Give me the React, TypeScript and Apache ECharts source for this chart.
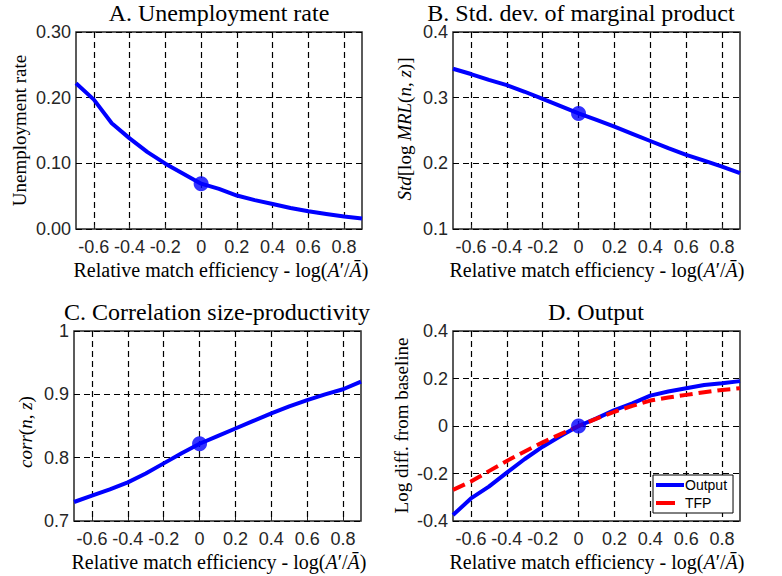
import React, { useEffect, useRef } from "react";
import * as echarts from "echarts";

// Relative match efficiency, log(A'/Ā)
const efficiency = [-0.7, -0.6, -0.5, -0.4, -0.3, -0.2, -0.1, 0, 0.1, 0.2, 0.3, 0.4, 0.5, 0.6, 0.7, 0.8, 0.9];
const xTickValues = [-0.6, -0.4, -0.2, 0, 0.2, 0.4, 0.6, 0.8];

// Panel series
const unemploymentRate = [0.222, 0.197, 0.161, 0.138, 0.117, 0.0995, 0.084, 0.069, 0.061, 0.051, 0.044, 0.038, 0.032, 0.027, 0.023, 0.019, 0.016];
const stdMarginalProduct = [0.344, 0.336, 0.327, 0.319, 0.309, 0.298, 0.287, 0.276, 0.266, 0.256, 0.245, 0.234, 0.223, 0.213, 0.204, 0.195, 0.185];
const corrSizeProductivity = [0.730, 0.740, 0.750, 0.761, 0.775, 0.791, 0.807, 0.822, 0.834, 0.846, 0.858, 0.870, 0.881, 0.891, 0.900, 0.908, 0.920];
const outputLogDiff = [-0.375, -0.305, -0.255, -0.196, -0.139, -0.087, -0.042, 0, 0.032, 0.067, 0.095, 0.128, 0.145, 0.159, 0.173, 0.180, 0.189];
const tfpLogDiff = [-0.269, -0.234, -0.19, -0.147, -0.107, -0.069, -0.034, 0, 0.031, 0.060, 0.085, 0.107, 0.120, 0.131, 0.142, 0.152, 0.159];

const panelTitles = ["A. Unemployment rate", "B. Std. dev. of marginal product", "C. Correlation size-productivity", "D. Output"];
const legendNames = ["Output", "TFP"];

const BLUE = "#0000ff";
const RED = "#ff0000";
const SANS = "Liberation Sans";
const SERIF = "Liberation Serif";

const baseIdx = efficiency.indexOf(0);
const toPairs = (ys: number[]) => efficiency.map((x, i) => [x, ys[i]]);

const grids = [
  { left: 76, top: 32, width: 286, height: 197 },
  { left: 453, top: 32, width: 287, height: 197 },
  { left: 74, top: 331, width: 287, height: 190 },
  { left: 453, top: 331, width: 287, height: 190 },
];

const yRanges = [
  { min: 0, max: 0.3, interval: 0.1, fmt: (v: number) => v.toFixed(2) },
  { min: 0.1, max: 0.4, interval: 0.1, fmt: (v: number) => v.toFixed(1) },
  { min: 0.7, max: 1, interval: 0.1, fmt: (v: number) => (Math.abs(v - 1) < 1e-9 ? "1" : v.toFixed(1)) },
  { min: -0.4, max: 0.4, interval: 0.2, fmt: (v: number) => (Math.abs(v) < 1e-9 ? "0" : v.toFixed(1)) },
];

const gridLine = { show: true, lineStyle: { color: "#000", width: 1.2, type: [6, 4] as number[] } };

const xFmt = (v: number) => {
  const r = Math.round(v * 10) / 10;
  return r === 0 ? "0" : String(r);
};

const nameRich = {
  r: { fontFamily: SERIF, fontSize: 20, color: "#333" },
  i: { fontFamily: SERIF, fontSize: 20, fontStyle: "italic", color: "#333" },
};
const yRich = {
  r: { fontFamily: SERIF, fontSize: 19, color: "#333" },
  i: { fontFamily: SERIF, fontSize: 19, fontStyle: "italic", color: "#333" },
};
const titleRich = {
  t: { fontFamily: SERIF, fontSize: 24, color: "#000" },
};

const xNameText = "{r|Relative match efficiency - log(}{i|A}{r|\u2032/}{i|\u0100}{r|)}";

const yNames = [
  { text: "{r|Unemployment rate}", x: 19, y: 130.5 },
  { text: "{i|Std}{r|[log }{i|MRL}{r|(}{i|n}{r|, }{i|z}{r|)]}", x: 404, y: 129 },
  { text: "{i|corr}{r|(}{i|n}{r|, }{i|z}{r|)}", x: 25, y: 432 },
  { text: "{r|Log diff. from baseline}", x: 401, y: 425.5 },
];

const titlePos = [
  { x: 219, y: 13 },
  { x: 581, y: 13 },
  { x: 217, y: 312 },
  { x: 596, y: 312 },
];

const xNamePos = [
  { x: 221, y: 270 },
  { x: 597, y: 270 },
  { x: 219, y: 562 },
  { x: 597, y: 562 },
];

function buildOption() {
  const xAxis = grids.map((_, i) => ({
    type: "value",
    gridIndex: i,
    min: -0.7,
    max: 0.9,
    axisLine: { show: false },
    axisTick: { show: true, inside: true, length: 4, customValues: xTickValues, lineStyle: { color: "#262626" } },
    axisLabel: { customValues: xTickValues, formatter: xFmt, fontFamily: SANS, fontSize: 18, color: "#262626", margin: 9 },
    splitLine: gridLine,
  }));
  const yAxis = grids.map((_, i) => ({
    type: "value",
    gridIndex: i,
    min: yRanges[i].min,
    max: yRanges[i].max,
    interval: yRanges[i].interval,
    axisLine: { show: false },
    axisTick: { show: true, inside: true, length: 4, lineStyle: { color: "#262626" } },
    axisLabel: { formatter: yRanges[i].fmt, fontFamily: SANS, fontSize: 18, color: "#262626", margin: 5 },
    splitLine: gridLine,
  }));

  const lineSeries = (idx: number, data: number[], name?: string) => ({
    type: "line",
    name,
    xAxisIndex: idx,
    yAxisIndex: idx,
    data: toPairs(data),
    symbol: "none",
    lineStyle: { color: BLUE, width: 4, join: "round" },
    itemStyle: { color: BLUE },
    z: 3,
  });
  const baseMarker = (idx: number, data: number[]) => ({
    type: "scatter",
    xAxisIndex: idx,
    yAxisIndex: idx,
    data: [[efficiency[baseIdx], data[baseIdx]]],
    symbol: "circle",
    symbolSize: 15,
    itemStyle: { color: BLUE },
    z: 5,
  });

  const series: any[] = [
    lineSeries(0, unemploymentRate),
    baseMarker(0, unemploymentRate),
    lineSeries(1, stdMarginalProduct),
    baseMarker(1, stdMarginalProduct),
    lineSeries(2, corrSizeProductivity),
    baseMarker(2, corrSizeProductivity),
    lineSeries(3, outputLogDiff, legendNames[0]),
    {
      type: "line",
      name: legendNames[1],
      xAxisIndex: 3,
      yAxisIndex: 3,
      data: toPairs(tfpLogDiff),
      symbol: "none",
      lineStyle: { color: RED, width: 4, type: [13, 6], cap: "butt" },
      itemStyle: { color: RED },
      z: 4,
    },
    baseMarker(3, outputLogDiff),
  ];

  const graphics: any[] = [];
  panelTitles.forEach((t, i) => {
    graphics.push({
      type: "text",
      x: titlePos[i].x,
      y: titlePos[i].y,
      style: { text: "{t|" + t + "}", rich: titleRich, align: "center", verticalAlign: "middle" },
      z: 10,
    });
    graphics.push({
      type: "text",
      x: xNamePos[i].x,
      y: xNamePos[i].y,
      style: { text: xNameText, rich: nameRich, align: "center", verticalAlign: "middle" },
      z: 10,
    });
    graphics.push({
      type: "text",
      x: yNames[i].x,
      y: yNames[i].y,
      rotation: Math.PI / 2,
      style: { text: yNames[i].text, rich: yRich, align: "center", verticalAlign: "middle" },
      z: 10,
    });
  });

  return {
    animation: false,
    backgroundColor: "#fff",
    grid: grids.map((g) => ({ ...g, show: true, borderColor: "#262626", borderWidth: 1.5, backgroundColor: "transparent", containLabel: false })),
    xAxis,
    yAxis,
    legend: {
      data: [
        { name: legendNames[0], icon: "rect" },
        { name: legendNames[1], icon: "path://M0 0h19v4h-19zM27.9 0h0.1v0.1h-0.1z" },
      ],
      left: 653,
      top: 475,
      orient: "vertical",
      itemWidth: 28,
      itemHeight: 4,
      itemGap: 4,
      padding: [3, 6, 3, 3],
      backgroundColor: "#fff",
      borderColor: "#000",
      borderWidth: 1,
      borderRadius: 0,
      textStyle: { fontFamily: SANS, fontSize: 14, color: "#000", padding: [0, 0, 0, -4] },
      z: 20,
    },
    series,
    graphic: graphics,
  };
}

export default function App() {
  const ref = useRef<HTMLDivElement>(null);
  useEffect(() => {
    if (!ref.current) return;
    const chart = echarts.init(ref.current, null, { renderer: "svg" });
    chart.setOption(buildOption() as any);
    return () => chart.dispose();
  }, []);
  return <div ref={ref} style={{ position: "fixed", left: 0, top: 0, width: 782, height: 576, background: "#fff" }} />;
}
